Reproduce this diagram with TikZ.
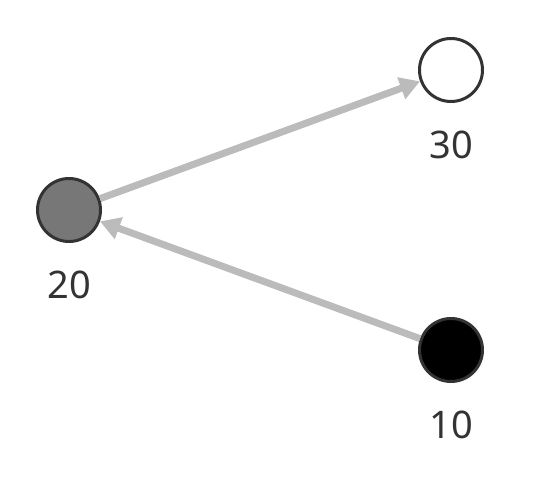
\documentclass[tikz,border=0pt]{standalone}
\usepackage{fontspec}
\setmainfont{Noto Sans}
\usetikzlibrary{arrows.meta}
\definecolor{edgegray}{HTML}{BBBBBB}
\definecolor{ringc}{HTML}{333333}
\definecolor{midgray}{HTML}{777777}
\begin{document}
\begin{tikzpicture}[x=1pt,y=-1pt,
  vert/.style={circle,draw=ringc,line width=3pt,minimum size=63pt,inner sep=0pt},
  lab/.style={font=\fontsize{38}{40}\selectfont,text=ringc,inner sep=0pt},
  link/.style={draw=edgegray,line width=7pt,-{Triangle[length=20pt,width=22pt]}}]
\useasboundingbox (0,0) rectangle (547,483);
\node[vert,fill=white] (n30) at (451,70) {};
\node[vert,fill=midgray] (n20) at (69,210) {};
\node[vert,fill=black] (n10) at (451,350) {};
\node[lab] (l30) at (451,145) {30};
\node[lab] (l20) at (69,285) {20};
\node[lab] (l10) at (451,425) {10};
\draw[link] (n20) -- (n30);
\draw[link] (n10) -- (n20);
\end{tikzpicture}
\end{document}
